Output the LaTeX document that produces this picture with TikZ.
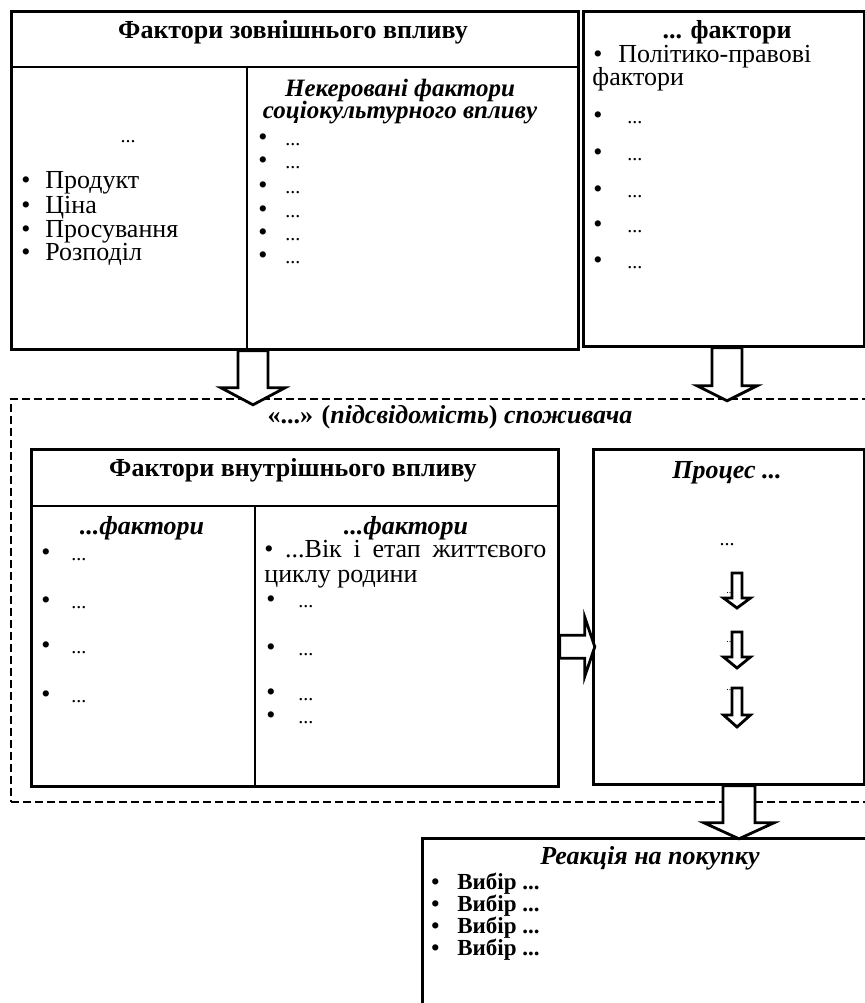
\documentclass[tikz,border=0pt]{standalone}
\usepackage{fontspec}
\setmainfont{Liberation Serif}
\usetikzlibrary{calc}

\newcommand{\fsize}{\fontsize{13}{15}\selectfont}
\newcommand{\dts}{{\fontsize{10}{12}\selectfont...}}
\newcommand{\bul}[2]{\makebox[#1][l]{\textbullet}#2}

\tikzset{
  pics/downarr/.style n args={4}{code={
    \draw[blk, pic actions] (-#1,0) -- (-#1,#3) -- (-#2,#3) -- (0,#4) -- (#2,#3) -- (#1,#3) -- (#1,0) -- cycle;}},
  pics/rightarr/.style n args={4}{code={
    \draw[blk, pic actions] (0,-#1) -- (#3,-#1) -- (#3,-#2) -- (#4,0) -- (#3,#2) -- (#3,#1) -- (0,#1) -- cycle;}},
}

\begin{document}
\begin{tikzpicture}[x=0.5pt, y=-0.5pt,
    panel/.style={draw, line width=1.4pt, anchor=north west, inner sep=0pt},
    rule/.style={line width=1.4pt},
    zone/.style={draw, line width=1.2pt, dash pattern=on 4pt off 2pt, anchor=north west, inner sep=0pt},
    blk/.style={draw, fill=white, line width=1.4pt, line join=miter},
    head/.style={font=\fsize\bfseries, inner sep=0pt},
    caption/.style={font=\fsize\bfseries\itshape, inner sep=0pt, text height=8pt, text depth=2pt},
    item/.style={font=\fsize, anchor=west, inner sep=0pt, text height=7pt, text depth=2pt},
]
\useasboundingbox (0,0) rectangle (865,1003);
\clip (0,0) rectangle (865,1003);

% outer factors
\node[panel, minimum width=283.5pt, minimum height=169pt] (ext) at (10,10) {};
\draw[rule] ($(ext.north west)+(0,57)$) -- ($(ext.north east)+(0,57)$);
\draw[rule] ($(ext.north west)+(237,57)$) -- ($(ext.south west)+(237,0)$);
\node[head] (exth) at (293,32) {Фактори зовнішнього впливу};
\node[font=\fsize] (mixd) at (128,142) {\dts};
\foreach \yy/\tx [count=\i] in {183/Продукт, 208/Ціна, 232/Просування, 255/Розподіл}
  \node[item] (mix\i) at (21,\yy) {\bul{12pt}{\tx}};
\node[caption, font=\fontsize{12.5}{14}\selectfont\bfseries\itshape] (soct) at (400,90) {Некеровані фактори};
\node[caption, font=\fontsize{12.5}{14}\selectfont\bfseries\itshape] (socs) at (400,112) {соціокультурного впливу};
\foreach \yy [count=\i] in {140,163,188,212,235,258}
  \node[item] (soc\i) at (258,\yy) {\bul{13.5pt}{\dts}};

\node[panel, minimum width=140.5pt, minimum height=167.5pt] (oth) at (582,10) {};
\node[head] (othh) at (727,32) {... фактори};
\node[item] (pol) at (593,57) {\bul{12.5pt}{Політико-правові}};
\node[item] (polb) at (592,80) {фактори};
\foreach \yy [count=\i] in {118,155,192,227,263}
  \node[item] (oth\i) at (593,\yy) {\bul{17pt}{\dts}};

% consumer
\node[zone, minimum width=450pt, minimum height=201.5pt] (cons) at (10,398) {};
\node[caption] (const) at (450,417) {\textup{«...» (}підсвідомість\textup{)} споживача};
\pic at ($(ext.south west)+(243,0)$) {downarr={15}{32}{37}{54}};
\pic at ($(oth.south west)+(145,0)$) {downarr={15}{30}{38}{53}};

\node[panel, minimum width=263.5pt, minimum height=168.5pt] (intr) at (30,448) {};
\draw[rule] ($(intr.north west)+(0,58)$) -- ($(intr.north east)+(0,58)$);
\draw[rule] ($(intr.north west)+(225,58)$) -- ($(intr.south west)+(225,0)$);
\node[head] (intrh) at (293,470) {Фактори внутрішнього впливу};
\node[caption] (psyt) at (142,528) {...фактори};
\foreach \yy [count=\i] in {555,603,648,697}
  \node[item] (psy\i) at (41,\yy) {\bul{15pt}{\dts}};
\node[caption] (pert) at (406,528) {...фактори};
\node[item] (age) at (264,552) {\makebox[141pt][s]{\textbullet\ ...Вік і етап життєвого}};
\node[item] (ageb) at (264,577) {циклу родини};
\foreach \yy [count=\i] in {602,650,695,718}
  \node[item] (per\i) at (266,\yy) {\bul{16pt}{\dts}};

\node[panel, minimum width=135.5pt, minimum height=167.5pt] (proc) at (592,448) {};
\pic at ($(intr.south east)+(0,-141)$) {rightarr={11.5}{29.5}{25}{35}};
\node[caption] (proct) at (727,472) {Процес ...};
\node[font=\fsize] (proc0) at (727,545) {\dts};
\node[font=\tiny] (proc1) at (730,593) {...};
\node[font=\tiny] (proc2) at (730,642) {...};
\node[font=\tiny] (proc3) at (730,690) {...};
\pic[line width=1.1pt] at ($(proc.north west)+(145,125)$) {downarr={5}{13.5}{25}{35}};
\pic[line width=1.1pt] at ($(proc.north west)+(145,184)$) {downarr={5}{13.5}{25}{36}};
\pic[line width=1.1pt] at ($(proc.north west)+(145,240)$) {downarr={5}{13.5}{27}{39}};

% reaction
\node[panel, minimum width=250pt, minimum height=125pt] (react) at (421,837) {};
\pic at ($(proc.south west)+(147,0)$) {downarr={16}{35}{37}{53}};
\node[caption] (reactt) at (650,858) {Реакція на покупку};
\foreach \yy [count=\i] in {884,906,928,950}
  \node[item, font=\fontsize{11.5}{13}\selectfont\bfseries] (ch\i) at (431,\yy) {\bul{13pt}{Вибір ...}};

\end{tikzpicture}
\end{document}
